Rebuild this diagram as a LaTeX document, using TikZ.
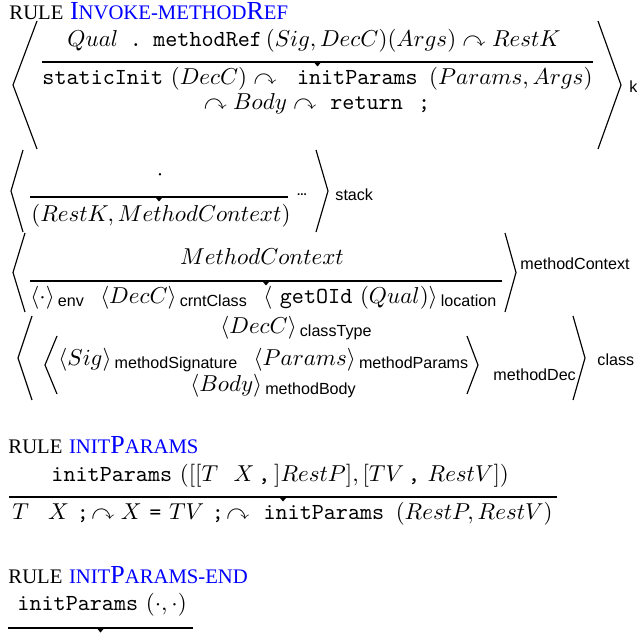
\documentclass[tikz,border=0pt]{standalone}
\usepackage{amsmath,amssymb}
\usepackage{fontspec}
\newfontfamily\lblfont{Liberation Sans}
\newfontfamily\titlefont{Liberation Serif}
\usepackage{tikz}
\usetikzlibrary{positioning}

% cell labels and cells
\newcommand{\klbl}[1]{\mbox{\lblfont\fontsize{7}{8}\selectfont #1}}
\newcommand{\kc}[2]{\langle #1\rangle_{\,\klbl{#2}}}
\newcommand{\kra}{\curvearrowright}
\newcommand{\smc}[1]{{\fontsize{9}{10}\selectfont #1}}
\newcommand{\ruletitle}[1]{{\titlefont\fontsize{11.3}{12}\selectfont\smc{RULE} \textcolor{blue}{#1}}}
% angle brackets of a cell: left end, left tip, right end, right tip, top, bottom
\newcommand{\kbrackets}[6]{%
  \draw[cellbr] (#1,#5) -- (#2,{(#5+#6)/2}) -- (#1,#6);
  \draw[cellbr] (#3,#5) -- (#4,{(#5+#6)/2}) -- (#3,#6);}
% rewrite bar with its tip: left, right, y
\newcommand{\rwbar}[3]{%
  \draw[rwline] (#1,#3) -- (#2,#3);
  \fill ({(#1+#2)/2-3.8},#3) -- ({(#1+#2)/2+3.8},#3) -- ({(#1+#2)/2},#3+4.5) -- cycle;}

\begin{document}
\begin{tikzpicture}[
  x=0.4348pt, y=-0.4348pt,
  txt/.style={anchor=base west, inner sep=0pt},
  ctxt/.style={anchor=base, inner sep=0pt},
  lbl/.style={anchor=base west, inner sep=0pt, font=\lblfont\fontsize{7}{8}\selectfont},
  cellbr/.style={line width=0.5pt},
  rwline/.style={line width=0.7pt},
]
  \useasboundingbox (0,0) rectangle (637,634);

  % rule invoke-methodRef
  \node[txt] (title1) at (9,20) {\ruletitle{I\smc{NVOKE-METHOD}R\smc{EF}}};
  \kbrackets{37}{13}{598}{621}{21}{149}
  \node[txt] (kleft) at (67,47) {$Qual\ \,\texttt{.}\ \,\texttt{methodRef}\,(Sig, DecC)(Args) \kra RestK$};
  \rwbar{42}{593}{62}
  \node[txt] (kright) at (42,85) {$\texttt{staticInit}\ (DecC) \kra\;\ \texttt{initParams}\ \,(Params, Args)$};
  \node[ctxt] (kright2) at (317,110) {$\kra Body \kra\ \texttt{return}\ \ \texttt{;}$};
  \node[lbl] (klabel) at (629,93) {k};

  % stack
  \kbrackets{23}{11}{316}{328}{150}{232}
  \node[ctxt] (stackleft) at (160,181) {$\cdot$};
  \rwbar{30}{288}{197}
  \node[ctxt] (stackright) at (161,222) {$(RestK, MethodContext)$};
  \node[ctxt] (stackdots) at (302,196) {\lblfont\fontsize{5}{5}\selectfont\textbf{...}};
  \node[lbl] (stacklabel) at (335,201) {stack};

  % methodContext
  \kbrackets{25}{13}{505}{516}{233}{312}
  \node[ctxt] (mcleft) at (262,265) {$MethodContext$};
  \rwbar{30}{502}{281}
  \node[txt] (mcright) at (30,303) {$\kc{\cdot}{env}\ \ \kc{DecC}{crntClass}\ \ \langle\ \texttt{getOId}\ (Qual)\rangle_{\,\klbl{location}}$};
  \node[lbl] (mclabel) at (520,270) {methodContext};

  % class
  \kbrackets{32}{18}{573}{585}{316}{400}
  \kbrackets{57}{45}{467}{478}{336}{394}
  \node[txt] (classtype) at (220,333) {$\kc{DecC}{classType}$};
  \node[txt] (methodsig) at (58,365) {$\kc{Sig}{methodSignature}\ \ \kc{Params}{methodParams}$};
  \node[txt] (methodbody) at (190,391) {$\kc{Body}{methodBody}$};
  \node[lbl] (mdlabel) at (493,380) {methodDec};
  \node[lbl] (classlabel) at (597,365) {class};

  % rule initParams
  \node[txt] (title2) at (8,453) {\ruletitle{\smc{INIT}P\smc{ARAMS}}};
  \node[txt] (ipleft) at (51,481) {$\texttt{initParams}\ ([[T\ \ X\,\texttt{,}\,]RestP], [TV\,\texttt{,}\ RestV])$};
  \rwbar{9}{557}{497}
  \node[txt] (ipright) at (12,519) {$T\ \ \,X\ \texttt{;}\!\kra X\ \texttt{=}\ TV\ \texttt{;}\!\kra\ \texttt{initParams}\ \,(RestP, RestV)$};

  % rule initParams-end
  \node[txt] (title3) at (8,583) {\ruletitle{\smc{INIT}P\smc{ARAMS-END}}};
  \node[txt] (ipeleft) at (17,610) {$\texttt{initParams}\ (\cdot, \cdot)$};
  \rwbar{8}{193}{628}
\end{tikzpicture}
\end{document}
